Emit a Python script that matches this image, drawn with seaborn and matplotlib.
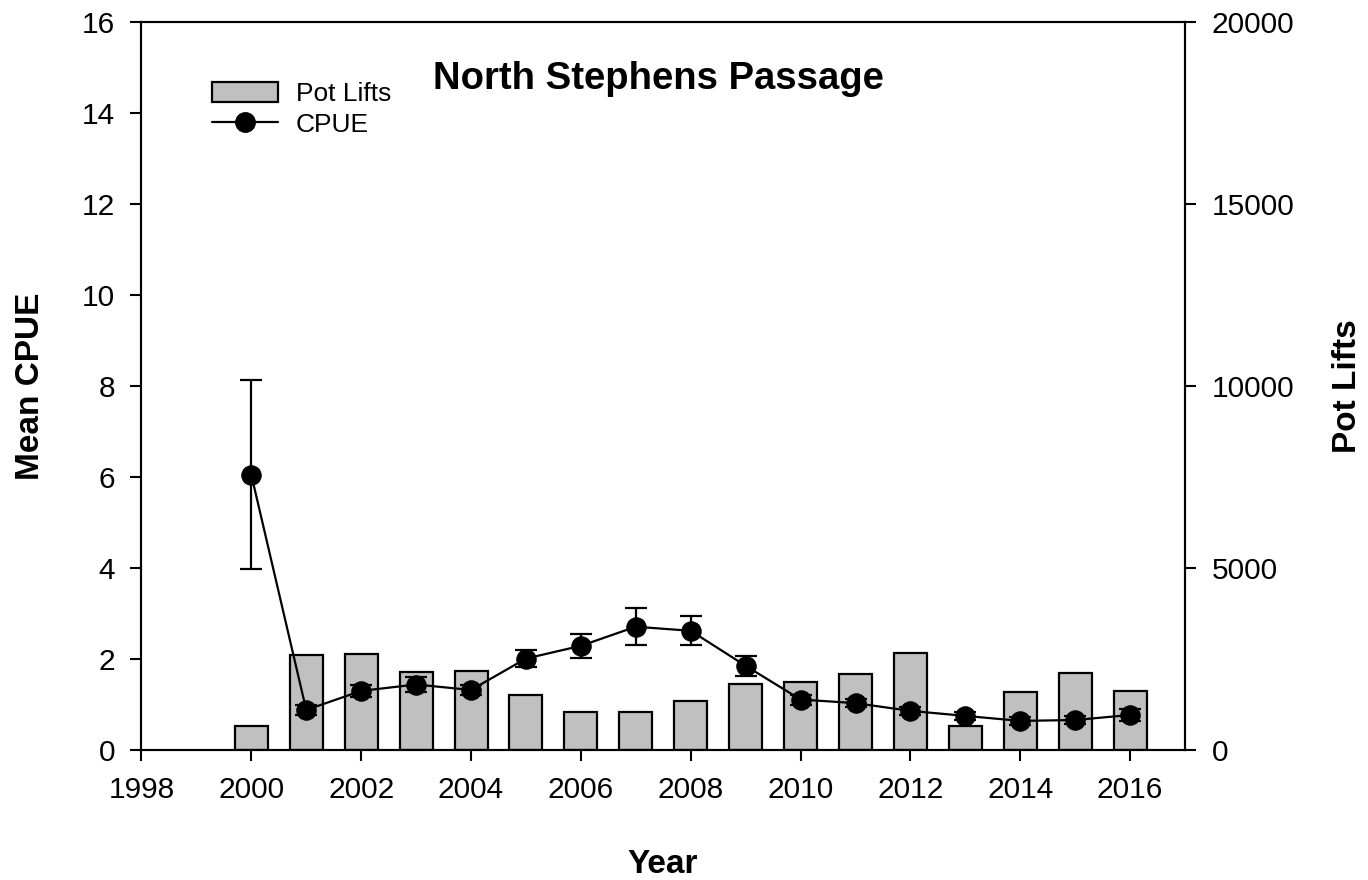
import matplotlib
matplotlib.use("Agg")
import matplotlib.pyplot as plt
from matplotlib.patches import Patch
from matplotlib.lines import Line2D
import seaborn as sns

# Data
years = [2000, 2001, 2002, 2003, 2004, 2005, 2006, 2007, 2008,
         2009, 2010, 2011, 2012, 2013, 2014, 2015, 2016]
cpue = [6.05, 0.88, 1.30, 1.44, 1.32, 2.01, 2.29, 2.71, 2.62,
        1.85, 1.11, 1.03, 0.86, 0.75, 0.64, 0.66, 0.77]
cpue_err = [2.08, 0.11, 0.13, 0.17, 0.10, 0.19, 0.26, 0.41, 0.32,
            0.22, 0.11, 0.09, 0.08, 0.08, 0.08, 0.08, 0.13]
pot_lifts = [650, 2610, 2650, 2140, 2180, 1500, 1035, 1045, 1355,
             1820, 1875, 2080, 2655, 665, 1600, 2110, 1630]
year_ticks = list(range(1998, 2017, 2))

sns.set_style("ticks")
plt.rcParams['font.family'] = ['Liberation Sans', 'DejaVu Sans']
plt.rcParams['text.color'] = 'black'
plt.rcParams['axes.labelcolor'] = 'black'

fig, ax = plt.subplots(figsize=(13.68, 8.8), dpi=100)
fig.subplots_adjust(left=0.1034, right=0.8663, bottom=0.1477, top=0.975)
ax2 = ax.twinx()

# Pot lifts bars on the right axis
sns.barplot(x=years, y=pot_lifts, native_scale=True, width=0.6,
            color='#C0C0C0', edgecolor='black', linewidth=1.6,
            saturation=1, ax=ax2)

# CPUE line with error bars on the left axis
ax.errorbar(years, cpue, yerr=cpue_err, fmt='none', ecolor='black',
            elinewidth=1.6, capsize=8, capthick=1.6, zorder=3)
sns.lineplot(x=years, y=cpue, color='black', linewidth=1.6, marker='o',
             markersize=14, markeredgecolor='black', ax=ax, zorder=4)

ax.set_zorder(ax2.get_zorder() + 1)
ax.patch.set_visible(False)

ax.set_xlim(1998, 2017)
ax.set_ylim(0, 16)
ax2.set_ylim(0, 20000)
ax.set_xticks(year_ticks)
ax.set_xticklabels([str(y) for y in year_ticks])
ax.set_yticks(range(0, 17, 2))
ax2.set_yticks(range(0, 20001, 5000))

for a in (ax, ax2):
    a.tick_params(axis='both', direction='out', length=8, width=1.5,
                  pad=11, labelsize=21.5, colors='black')
    for s in a.spines.values():
        s.set_visible(True)
        s.set_linewidth(1.5)
        s.set_color('black')

ax2.set_xlabel('')
ax.set_xlabel('Year', fontsize=24, fontweight='bold')
ax.set_ylabel('Mean CPUE', fontsize=24, fontweight='bold')
ax2.set_ylabel('Pot Lifts', fontsize=24, fontweight='bold')
ax.xaxis.set_label_coords(0.4996, -0.157)
ax.xaxis.label.set_verticalalignment('center')
ax.yaxis.set_label_coords(-0.106, 0.5)
ax.yaxis.label.set_verticalalignment('center')
ax2.yaxis.set_label_coords(1.156, 0.5)
ax2.yaxis.label.set_verticalalignment('center')

ax.text(0.495, 0.908, 'North Stephens Passage', transform=ax.transAxes,
        ha='center', va='baseline', fontsize=27.5, fontweight='bold')

handles = [Patch(facecolor='#C0C0C0', edgecolor='black', linewidth=1.6),
           Line2D([0], [0], color='black', linewidth=1.6, marker='o',
                  markersize=14)]
ax.legend(handles, ['Pot Lifts', 'CPUE'], loc='upper left',
          bbox_to_anchor=(0.068, 0.918), frameon=False, fontsize=19,
          handlelength=2.5, handleheight=0.8, handletextpad=0.65,
          labelspacing=0.25, borderpad=0, borderaxespad=0)

fig.savefig('out.png', dpi=100)
